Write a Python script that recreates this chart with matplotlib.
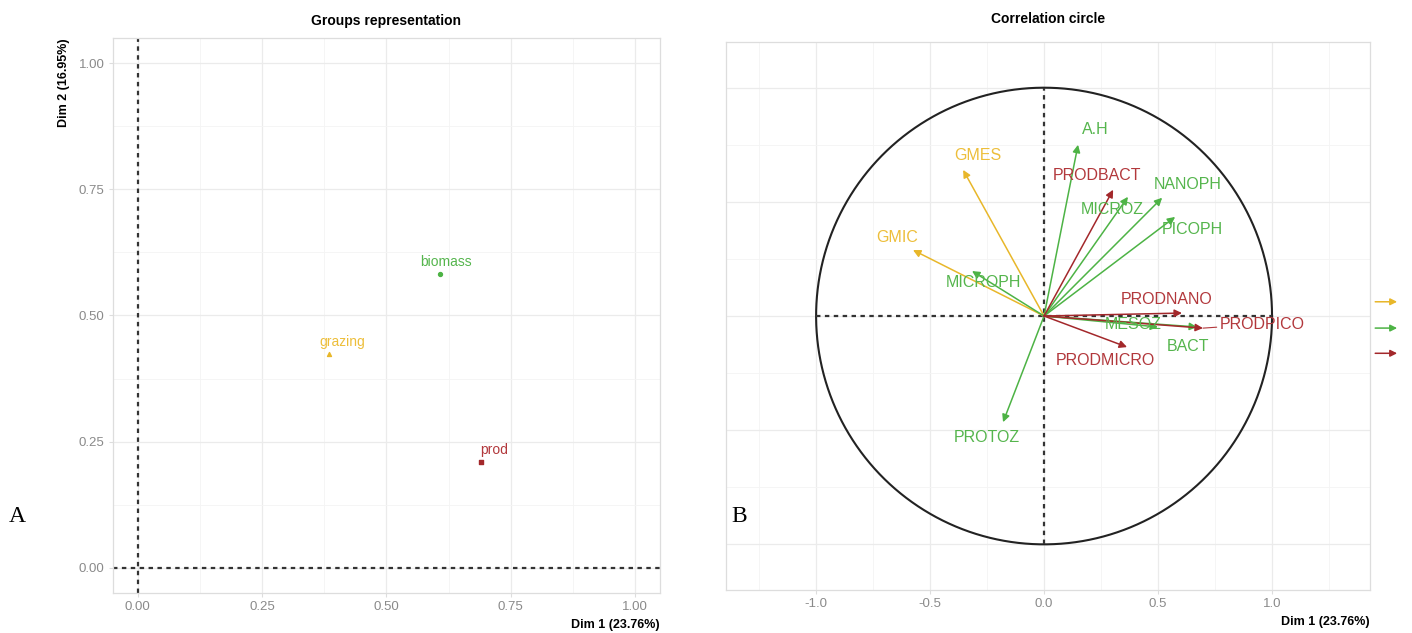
import matplotlib.pyplot as plt
import numpy as np

plt.rcParams['font.family'] = ['Liberation Sans', 'DejaVu Sans']

# group coordinates (panel A)
groups = ['grazing', 'biomass', 'prod']
group_dim1 = [0.385, 0.607, 0.690]
group_dim2 = [0.424, 0.582, 0.210]

# variable coordinates (panel B)
variables = ['GMES', 'GMIC', 'A.H', 'MICROZ', 'NANOPH', 'PICOPH', 'MICROPH', 'MESOZ',
             'BACT', 'PROTOZ', 'PRODBACT', 'PRODNANO', 'PRODPICO', 'PRODMICRO']
var_group = ['grazing', 'grazing', 'biomass', 'biomass', 'biomass', 'biomass', 'biomass',
             'biomass', 'biomass', 'biomass', 'prod', 'prod', 'prod', 'prod']
var_dim1 = [-0.355, -0.575, 0.149, 0.368, 0.518, 0.575, -0.316, 0.500,
            0.671, -0.180, 0.303, 0.605, 0.697, 0.364]
var_dim2 = [0.640, 0.289, 0.750, 0.522, 0.518, 0.434, 0.197, -0.048,
            -0.048, -0.465, 0.553, 0.013, -0.053, -0.136]

colors = {'grazing': '#E8B72A', 'biomass': '#4DB345', 'prod': '#A3282B'}
label_colors = {'grazing': '#EDBE3A', 'biomass': '#55B54D', 'prod': '#B2383C'}
markers = {'grazing': '^', 'biomass': 'o', 'prod': 's'}

# label offsets in pixels (layout only)
group_offsets = {'grazing': (13, 12), 'biomass': (6, 12), 'prod': (13, 12)}
var_offsets = {'GMES': (15, 14), 'GMIC': (-16, 13), 'A.H': (17, 15), 'MICROZ': (-16, -13),
               'NANOPH': (26, 13), 'PICOPH': (17, -13), 'MICROPH': (11, -11),
               'MESOZ': (-25, 2), 'BACT': (-9, -20), 'PROTOZ': (-16, -15),
               'PRODBACT': (-16, 14), 'PRODNANO': (-15, 14), 'PRODPICO': (59, 4),
               'PRODMICRO': (-22, -13)}

dash = (0, (2, 2))

fig = plt.figure(figsize=(14.12, 6.33), dpi=100)
axA = fig.add_axes([0.080, 0.0632, 0.3874, 0.8768])
axB = fig.add_axes([0.5142, 0.0679, 0.4561, 0.8657])

def style_axes(ax):
    ax.grid(True, which='major', color='#EBEBEB', lw=0.9)
    ax.grid(True, which='minor', color='#F4F4F4', lw=0.6)
    ax.set_axisbelow(True)
    for s in ax.spines.values():
        s.set_color('#DDDDDD')
        s.set_linewidth(0.9)
    ax.tick_params(which='major', length=3, color='#DDDDDD', pad=3,
                   labelsize=9.5, labelcolor='#8A8A8A')
    ax.tick_params(which='minor', length=0)

# panel A
style_axes(axA)
axA.set_xticks([0, 0.25, 0.5, 0.75, 1.0])
axA.set_yticks([0, 0.25, 0.5, 0.75, 1.0])
axA.set_xticks(np.arange(0.125, 1.0, 0.25), minor=True)
axA.set_yticks(np.arange(0.125, 1.0, 0.25), minor=True)
axA.set_xticklabels(['0.00', '0.25', '0.50', '0.75', '1.00'])
axA.set_yticklabels(['0.00', '0.25', '0.50', '0.75', '1.00'])
axA.set_xlim(-0.05, 1.05)
axA.set_ylim(-0.05, 1.05)
axA.axhline(0, color='#333333', ls=dash, lw=1.6)
axA.axvline(0, color='#333333', ls=dash, lw=1.6)
for g, x, y in zip(groups, group_dim1, group_dim2):
    axA.scatter(x, y, s=8, marker=markers[g], color=colors[g], zorder=3)
    axA.annotate(g, (x, y), xytext=group_offsets[g], textcoords='offset pixels',
                 ha='center', va='center', fontsize=10, color=label_colors[g])
axA.set_title('Groups representation', fontsize=10, fontweight='bold', pad=9)
axA.set_xlabel('Dim 1 (23.76%)', fontsize=9, fontweight='bold', loc='right', labelpad=4)
axA.set_ylabel('Dim 2 (16.95%)', fontsize=9, fontweight='bold', loc='top', labelpad=6)

# panel B
style_axes(axB)
axB.set_xticks([-1.0, -0.5, 0.0, 0.5, 1.0])
axB.set_xticklabels(['-1.0', '-0.5', '0.0', '0.5', '1.0'])
axB.set_xticks([-1.25, -0.75, -0.25, 0.25, 0.75, 1.25], minor=True)
axB.set_yticks([-1.0, -0.5, 0.0, 0.5, 1.0])
axB.set_yticks([-0.75, -0.25, 0.25, 0.75], minor=True)
axB.set_yticklabels([])
axB.tick_params(axis='y', which='both', length=0)
axB.set_xlim(-1.395, 1.43)
axB.set_ylim(-1.2, 1.2)
t = np.linspace(0, 2 * np.pi, 400)
axB.plot(np.cos(t), np.sin(t), color='#222222', lw=1.5)
axB.plot([-1, 1], [0, 0], color='#333333', ls=dash, lw=1.6)
axB.plot([0, 0], [-1, 1], color='#333333', ls=dash, lw=1.6)
for v, g, x, y in zip(variables, var_group, var_dim1, var_dim2):
    axB.annotate('', xy=(x, y), xytext=(0, 0),
                 arrowprops=dict(arrowstyle='-|>', color=colors[g], lw=1.1,
                                 mutation_scale=11, shrinkA=0, shrinkB=0))
for v, g, x, y in zip(variables, var_group, var_dim1, var_dim2):
    dx, dy = var_offsets[v]
    if v == 'PRODPICO':
        axB.annotate(v, (x, y), xytext=(dx, dy), textcoords='offset pixels',
                     ha='center', va='center', fontsize=11.5, color=label_colors[g],
                     arrowprops=dict(arrowstyle='-', color=label_colors[g], lw=0.8,
                                     shrinkA=28, shrinkB=0))
    else:
        axB.annotate(v, (x, y), xytext=(dx, dy), textcoords='offset pixels',
                     ha='center', va='center', fontsize=11.5, color=label_colors[g])
axB.set_title('Correlation circle', fontsize=10, fontweight='bold', pad=14)
axB.set_xlabel('Dim 1 (23.76%)', fontsize=9, fontweight='bold', loc='right', labelpad=4)

# legend arrows (labels cropped in the original)
for g, ly in zip(['grazing', 'biomass', 'prod'], [0.526, 0.478, 0.432]):
    axB.annotate('', xy=(1.042, ly), xytext=(1.008, ly), xycoords='axes fraction',
                 textcoords='axes fraction', annotation_clip=False,
                 arrowprops=dict(arrowstyle='-|>', color=colors[g], lw=1.1,
                                 mutation_scale=10, shrinkA=0, shrinkB=0))

fig.text(0.006, 0.175, 'A', fontsize=17, family='Liberation Serif')
fig.text(0.518, 0.175, 'B', fontsize=17, family='Liberation Serif')

fig.savefig('out.png', dpi=100)
